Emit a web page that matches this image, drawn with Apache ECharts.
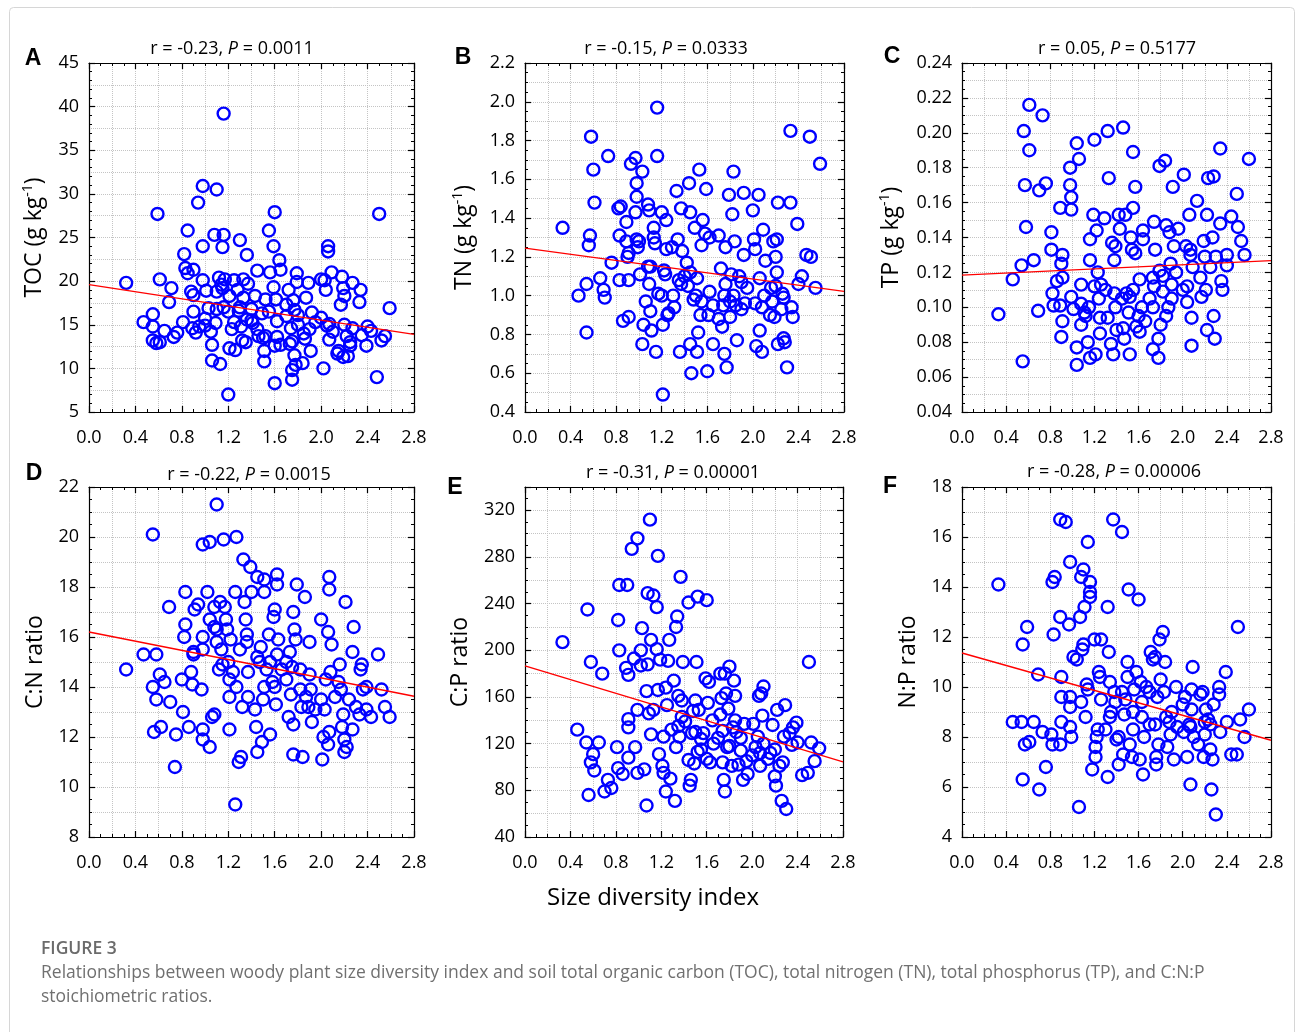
<!DOCTYPE html>
<html>
<head>
<meta charset="utf-8">
<script src="https://cdn.jsdelivr.net/npm/echarts@6/dist/echarts.min.js"></script>
<style>
html,body{margin:0;padding:0;background:#fff;}
#chart{width:1296px;height:1032px;}
</style>
</head>
<body>
<div id="chart"></div>
<script>
// ---------- DATA ----------
const xTickLabels = ['0.0','0.4','0.8','1.2','1.6','2.0','2.4','2.8'];
const panelLetters = ['A','B','C','D','E','F'];
const statTexts = [
  ['-0.23','0.0011'], ['-0.15','0.0333'], ['0.05','0.5177'],
  ['-0.22','0.0015'], ['-0.31','0.00001'], ['-0.28','0.00006']
];
const yAxisNames = ['TOC (g kg{sup|-1})','TN (g kg{sup|-1})','TP (g kg{sup|-1})','C:N ratio','C:P ratio','N:P ratio'];
// y ranges [min, max, interval, decimals]
const yRangeTOC = [5, 45, 5, 0];
const yRangeTN = [0.4, 2.2, 0.2, 1];
const yRangeTP = [0.04, 0.24, 0.02, 2];
const yRangeCN = [8, 22, 2, 0];
const yRangeCP = [40, 340, 40, 0];
const yRangeNP = [4, 18, 2, 0];
// regression line end values at x = 0 and x = 2.8
const fitTOC = [19.6, 13.9];
const fitTN = [1.245, 1.022];
const fitTP = [0.1184, 0.1267];
const fitCN = [16.2, 13.63];
const fitCP = [186.6, 104.3];
const fitNP = [11.36, 7.87];

const tocPoints = [[0.32,19.8],[0.59,27.7],[0.47,15.3],[0.55,16.2],[0.55,14.8],[0.55,13.2],[0.58,12.9],[0.61,13.0],[0.61,20.2],[0.65,14.3],[0.69,17.6],[0.71,19.2],[0.73,13.6],[0.76,14.1],[0.81,15.3],[0.82,23.1],[0.83,21.5],[0.85,25.8],[0.85,20.9],[0.90,21.3],[0.88,18.8],[0.90,18.4],[0.90,16.5],[0.89,14.6],[0.92,14.1],[0.94,29.0],[0.98,30.9],[0.98,24.0],[0.98,20.1],[1.00,14.9],[1.01,18.9],[1.03,16.9],[1.05,14.2],[1.06,12.7],[1.06,10.9],[1.08,25.3],[1.10,30.5],[1.10,18.8],[1.09,15.2],[1.12,20.4],[1.13,10.5],[1.14,19.6],[1.16,39.2],[1.16,25.3],[1.15,23.9],[1.16,17.0],[1.17,20.2],[1.21,18.3],[1.21,12.3],[1.20,7.0],[1.23,14.5],[1.25,20.1],[1.26,12.1],[1.29,16.6],[1.30,24.7],[1.31,14.8],[1.32,13.2],[1.33,18.1],[1.33,20.2],[1.36,23.0],[1.37,19.7],[1.36,15.6],[1.41,15.2],[1.43,18.3],[1.45,21.2],[1.46,13.7],[1.49,16.3],[1.51,12.0],[1.51,10.8],[1.52,13.7],[1.52,17.9],[1.55,25.8],[1.56,21.0],[1.59,24.0],[1.59,19.3],[1.60,27.9],[1.60,8.3],[1.61,17.9],[1.62,15.4],[1.62,13.6],[1.64,22.4],[1.65,21.3],[1.72,19.0],[1.74,14.6],[1.73,12.8],[1.75,9.8],[1.75,8.7],[1.76,17.8],[1.77,16.7],[1.77,11.5],[1.79,20.9],[1.79,19.9],[1.78,10.4],[1.84,10.6],[1.86,13.4],[1.87,18.1],[1.89,19.8],[1.91,12.0],[1.92,16.4],[1.95,15.3],[2.00,20.2],[2.02,10.0],[2.03,20.1],[2.04,19.0],[2.06,24.0],[2.06,23.4],[2.07,13.3],[2.07,15.1],[2.09,21.0],[2.14,11.7],[2.17,17.3],[2.18,20.5],[2.19,19.2],[2.19,11.3],[2.20,18.3],[2.22,13.7],[2.23,11.4],[2.25,12.6],[2.27,19.8],[2.27,14.6],[2.34,19.0],[2.33,17.6],[2.35,13.8],[2.39,12.6],[2.40,14.8],[2.43,14.3],[2.48,9.0],[2.50,27.7],[2.52,13.2],[2.55,13.7],[2.59,16.9],[1.40,15.5],[1.45,14.5],[1.55,16.5],[1.70,16.0],[1.80,15.0],[1.85,14.0],[1.50,13.5],[1.65,12.7],[1.90,14.5],[2.10,14.2],[2.20,15.0],[2.25,13.0],[1.30,17.0],[1.20,16.5],[1.35,13.0],[1.10,16.8],[1.00,15.7],[0.95,14.8],[1.25,15.3],[1.75,13.1],[2.00,15.8],[2.15,12.0],[2.05,14.9],[1.60,12.6],[1.40,16.8],[1.70,17.3],[1.80,16.1],[1.15,19.2],[1.28,19.0]];

const tnPoints = [[0.33,1.35],[0.47,1.00],[0.54,0.81],[0.54,1.06],[0.56,1.26],[0.57,1.31],[0.58,1.82],[0.60,1.65],[0.61,1.48],[0.66,1.09],[0.69,1.03],[0.70,0.99],[0.73,1.72],[0.76,1.17],[0.82,1.45],[0.83,1.08],[0.83,1.31],[0.84,1.46],[0.86,0.87],[0.89,1.28],[0.89,1.38],[0.91,1.22],[0.91,1.08],[0.91,0.89],[0.93,1.68],[0.97,1.71],[0.98,1.58],[0.98,1.51],[0.97,1.43],[0.98,1.29],[0.99,1.25],[1.01,1.11],[1.03,1.64],[1.04,0.85],[1.03,0.75],[1.06,0.97],[1.08,1.47],[1.09,1.44],[1.08,1.15],[1.09,1.06],[1.10,0.92],[1.11,0.82],[1.13,1.35],[1.13,1.30],[1.14,1.27],[1.16,1.97],[1.16,1.72],[1.15,0.71],[1.17,1.01],[1.20,1.43],[1.21,0.85],[1.21,0.49],[1.22,1.13],[1.23,1.11],[1.24,1.39],[1.24,1.24],[1.26,0.91],[1.29,1.25],[1.31,0.94],[1.33,1.54],[1.34,1.29],[1.36,0.71],[1.37,1.45],[1.37,1.06],[1.38,1.23],[1.42,1.17],[1.43,1.05],[1.44,1.58],[1.45,1.43],[1.45,0.75],[1.46,0.60],[1.48,0.98],[1.49,1.35],[1.51,0.71],[1.51,1.09],[1.52,0.81],[1.53,1.65],[1.54,0.90],[1.55,1.26],[1.56,1.39],[1.58,1.32],[1.59,1.55],[1.60,0.61],[1.61,0.90],[1.62,1.02],[1.62,1.30],[1.65,0.75],[1.70,1.31],[1.72,1.14],[1.73,0.84],[1.74,0.95],[1.75,0.70],[1.76,1.25],[1.76,1.06],[1.77,0.63],[1.79,1.52],[1.80,0.89],[1.81,1.11],[1.82,1.42],[1.83,1.64],[1.83,1.00],[1.84,1.28],[1.86,0.77],[1.88,1.10],[1.90,0.93],[1.92,1.53],[1.92,1.21],[1.93,0.96],[1.95,1.04],[2.00,1.44],[2.01,1.29],[2.02,1.24],[2.02,0.96],[2.03,0.74],[2.05,1.52],[2.06,1.09],[2.06,0.82],[2.08,0.94],[2.08,0.71],[2.09,1.34],[2.11,1.18],[2.16,1.04],[2.17,0.97],[2.18,1.28],[2.19,0.89],[2.20,1.20],[2.21,1.29],[2.21,1.12],[2.22,1.48],[2.22,0.75],[2.25,0.93],[2.26,1.01],[2.27,0.99],[2.27,0.78],[2.28,0.76],[2.30,0.63],[2.33,1.85],[2.33,1.48],[2.34,0.94],[2.35,0.89],[2.39,1.37],[2.40,1.06],[2.43,1.10],[2.47,1.21],[2.50,1.82],[2.51,1.20],[2.55,1.04],[2.59,1.68],[1.30,1.00],[1.40,1.10],[1.50,1.00],[1.65,0.95],[1.70,0.88],[1.75,1.00],[1.80,0.97],[1.90,1.07],[2.10,1.00],[2.15,0.90],[1.25,0.90],[1.20,1.00],[1.35,1.08],[1.55,0.97],[1.85,0.95],[2.20,1.05],[1.45,1.12],[1.10,1.15],[1.00,1.28],[0.90,1.20]];

const tpPoints = [[0.33,0.096],[0.46,0.116],[0.54,0.124],[0.55,0.069],[0.56,0.201],[0.57,0.170],[0.58,0.146],[0.61,0.216],[0.61,0.190],[0.65,0.127],[0.69,0.098],[0.70,0.167],[0.73,0.210],[0.76,0.171],[0.81,0.143],[0.81,0.133],[0.82,0.108],[0.83,0.101],[0.86,0.115],[0.89,0.157],[0.90,0.083],[0.90,0.125],[0.91,0.130],[0.91,0.117],[0.91,0.092],[0.89,0.101],[0.98,0.180],[0.98,0.170],[0.99,0.163],[0.99,0.156],[0.99,0.106],[1.01,0.099],[1.04,0.194],[1.04,0.077],[1.04,0.067],[1.06,0.185],[1.08,0.113],[1.08,0.102],[1.08,0.090],[1.11,0.097],[1.12,0.095],[1.14,0.080],[1.16,0.071],[1.16,0.127],[1.16,0.139],[1.19,0.153],[1.20,0.196],[1.21,0.073],[1.22,0.144],[1.23,0.120],[1.24,0.105],[1.25,0.094],[1.25,0.085],[1.26,0.113],[1.29,0.151],[1.32,0.201],[1.32,0.094],[1.33,0.174],[1.35,0.079],[1.36,0.137],[1.38,0.127],[1.37,0.073],[1.38,0.108],[1.39,0.100],[1.39,0.135],[1.40,0.087],[1.42,0.153],[1.43,0.145],[1.46,0.203],[1.46,0.088],[1.47,0.082],[1.48,0.153],[1.49,0.108],[1.51,0.097],[1.52,0.106],[1.52,0.073],[1.53,0.140],[1.54,0.133],[1.55,0.189],[1.55,0.157],[1.57,0.169],[1.57,0.131],[1.58,0.089],[1.61,0.116],[1.61,0.086],[1.63,0.100],[1.64,0.139],[1.64,0.144],[1.66,0.092],[1.73,0.117],[1.73,0.100],[1.73,0.076],[1.74,0.149],[1.75,0.133],[1.74,0.112],[1.78,0.071],[1.78,0.082],[1.79,0.181],[1.79,0.121],[1.80,0.090],[1.82,0.109],[1.82,0.118],[1.84,0.184],[1.85,0.147],[1.87,0.100],[1.88,0.143],[1.89,0.125],[1.90,0.113],[1.91,0.169],[1.92,0.135],[1.94,0.120],[1.96,0.145],[2.01,0.176],[2.03,0.135],[2.04,0.112],[2.04,0.103],[2.06,0.153],[2.07,0.130],[2.07,0.133],[2.08,0.094],[2.08,0.078],[2.09,0.123],[2.13,0.161],[2.16,0.117],[2.17,0.106],[2.19,0.138],[2.20,0.129],[2.21,0.110],[2.22,0.153],[2.22,0.087],[2.23,0.174],[2.25,0.123],[2.27,0.140],[2.28,0.095],[2.28,0.175],[2.29,0.082],[2.30,0.129],[2.34,0.148],[2.34,0.191],[2.35,0.115],[2.36,0.110],[2.40,0.130],[2.40,0.124],[2.44,0.152],[2.49,0.165],[2.50,0.146],[2.53,0.138],[2.56,0.130],[2.60,0.185],[1.20,0.112],[1.30,0.110],[1.45,0.105],[1.70,0.105],[1.90,0.105],[2.00,0.110],[1.60,0.095],[1.85,0.095],[1.15,0.100],[1.55,0.110]];

const cnPoints = [[0.32,14.7],[0.47,15.3],[0.55,20.1],[0.55,14.0],[0.56,12.2],[0.58,13.5],[0.58,15.3],[0.61,14.5],[0.62,12.4],[0.65,14.2],[0.69,17.2],[0.70,13.4],[0.74,10.8],[0.75,12.1],[0.80,14.3],[0.81,13.0],[0.83,17.8],[0.83,16.5],[0.82,16.0],[0.86,12.4],[0.88,14.6],[0.89,14.1],[0.90,15.3],[0.91,17.1],[0.90,15.4],[0.94,17.3],[0.97,13.9],[0.98,12.3],[0.98,11.9],[0.98,19.7],[0.98,16.0],[0.98,15.5],[1.02,17.8],[1.04,16.7],[1.04,19.8],[1.04,11.6],[1.06,12.8],[1.08,12.9],[1.08,16.4],[1.08,17.2],[1.10,21.3],[1.10,15.8],[1.12,14.7],[1.13,17.4],[1.14,15.5],[1.15,14.9],[1.16,19.9],[1.17,17.2],[1.18,16.7],[1.19,16.3],[1.21,14.3],[1.21,12.3],[1.22,15.9],[1.21,13.6],[1.24,14.6],[1.26,17.8],[1.26,9.3],[1.27,14.0],[1.27,20.0],[1.29,11.0],[1.31,11.2],[1.32,13.2],[1.33,19.1],[1.34,17.4],[1.35,16.7],[1.36,16.1],[1.36,15.8],[1.37,14.6],[1.37,13.6],[1.39,18.8],[1.40,17.8],[1.43,13.1],[1.44,12.4],[1.45,18.4],[1.45,11.4],[1.47,15.0],[1.48,15.6],[1.49,11.8],[1.50,13.5],[1.51,18.3],[1.51,17.8],[1.51,14.0],[1.53,14.7],[1.55,16.1],[1.56,15.0],[1.56,12.1],[1.58,14.2],[1.59,16.8],[1.60,17.1],[1.61,13.3],[1.62,18.1],[1.62,18.5],[1.63,15.9],[1.62,15.3],[1.66,14.7],[1.70,14.3],[1.72,12.8],[1.73,15.4],[1.74,13.7],[1.76,17.0],[1.76,11.3],[1.76,12.5],[1.77,16.3],[1.78,15.9],[1.79,18.1],[1.82,14.7],[1.82,13.9],[1.83,13.2],[1.84,11.2],[1.86,17.6],[1.87,13.6],[1.89,13.2],[1.90,15.8],[1.91,13.9],[1.92,12.6],[1.95,13.1],[2.00,16.7],[2.01,11.1],[2.02,12.0],[2.03,13.1],[2.04,14.3],[2.06,16.2],[2.07,18.4],[2.07,17.9],[2.06,11.7],[2.07,12.2],[2.08,14.6],[2.09,15.7],[2.12,13.6],[2.16,14.9],[2.17,13.9],[2.19,12.9],[2.18,12.4],[2.20,11.9],[2.20,11.4],[2.21,17.4],[2.22,11.6],[2.24,13.5],[2.27,15.4],[2.27,12.3],[2.28,16.4],[2.30,13.2],[2.33,12.9],[2.34,14.7],[2.35,14.9],[2.36,13.9],[2.39,14.0],[2.39,13.1],[2.43,12.8],[2.49,15.3],[2.52,13.9],[2.55,13.2],[2.59,12.8],[1.30,15.5],[1.45,15.2],[1.60,14.0],[1.70,15.0],[1.90,14.5],[2.00,13.5],[2.15,14.2],[1.20,15.0],[1.10,16.3],[1.75,14.8]];

const cpPoints = [[0.33,207],[0.46,132],[0.55,235],[0.54,121],[0.56,76],[0.58,190],[0.58,104],[0.60,111],[0.61,97],[0.65,121],[0.68,180],[0.70,79],[0.73,89],[0.76,82],[0.82,226],[0.83,200],[0.81,117],[0.82,99],[0.83,256],[0.86,94],[0.90,256],[0.89,185],[0.91,179],[0.91,134],[0.91,141],[0.91,108],[0.94,287],[0.96,193],[0.97,117],[0.99,95],[0.99,296],[0.99,149],[1.02,200],[1.03,219],[1.02,187],[1.05,98],[1.07,67],[1.07,165],[1.08,249],[1.08,188],[1.09,146],[1.10,312],[1.11,209],[1.11,128],[1.13,149],[1.13,247],[1.16,237],[1.16,201],[1.17,281],[1.17,166],[1.18,111],[1.19,192],[1.21,101],[1.22,126],[1.22,95],[1.24,168],[1.24,79],[1.25,153],[1.26,191],[1.27,209],[1.28,90],[1.29,132],[1.31,174],[1.32,71],[1.33,117],[1.33,220],[1.34,229],[1.35,161],[1.36,126],[1.37,263],[1.38,157],[1.38,143],[1.39,190],[1.41,139],[1.44,106],[1.44,241],[1.45,84],[1.46,89],[1.47,129],[1.48,148],[1.49,103],[1.50,157],[1.51,190],[1.52,246],[1.52,113],[1.53,149],[1.55,124],[1.57,129],[1.59,176],[1.60,107],[1.60,243],[1.61,155],[1.62,173],[1.63,104],[1.66,120],[1.72,180],[1.72,145],[1.73,159],[1.74,104],[1.74,131],[1.75,89],[1.76,79],[1.76,180],[1.77,163],[1.78,117],[1.79,150],[1.80,186],[1.82,101],[1.83,134],[1.84,174],[1.85,161],[1.86,130],[1.88,102],[1.90,114],[1.92,89],[1.93,137],[1.96,94],[2.01,137],[2.03,117],[2.05,126],[2.06,161],[2.07,101],[2.08,163],[2.07,112],[2.09,144],[2.10,169],[2.14,107],[2.16,112],[2.18,136],[2.20,92],[2.21,84],[2.22,149],[2.24,101],[2.26,71],[2.27,104],[2.28,126],[2.29,153],[2.30,64],[2.33,129],[2.35,119],[2.36,134],[2.39,138],[2.40,121],[2.44,93],[2.49,95],[2.50,190],[2.52,121],[2.55,105],[2.59,116],[1.50,130],[1.70,125],[1.80,118],[1.90,125],[2.00,110],[2.10,120],[2.20,115],[1.65,140],[1.35,135],[1.55,115],[1.85,140],[1.95,105]];

const npPoints = [[0.33,14.1],[0.46,8.6],[0.54,8.6],[0.55,11.7],[0.55,6.3],[0.57,7.7],[0.59,12.4],[0.61,7.8],[0.65,8.6],[0.69,10.5],[0.70,5.9],[0.73,8.2],[0.76,6.8],[0.81,8.1],[0.82,14.2],[0.84,14.4],[0.83,12.1],[0.82,7.7],[0.89,16.7],[0.90,10.4],[0.90,9.6],[0.90,8.6],[0.89,12.8],[0.89,7.7],[0.94,16.6],[0.97,12.5],[0.98,15.0],[0.98,9.6],[0.98,9.2],[0.99,8.0],[0.98,8.4],[1.01,11.2],[1.04,11.1],[1.06,5.2],[1.07,12.8],[1.08,9.4],[1.10,14.7],[1.10,11.7],[1.09,11.5],[1.12,8.8],[1.11,13.2],[1.08,14.4],[1.13,10.1],[1.14,9.9],[1.14,15.8],[1.16,14.2],[1.16,13.8],[1.16,13.6],[1.18,6.7],[1.20,11.9],[1.21,7.6],[1.21,7.2],[1.22,8.0],[1.23,8.3],[1.24,10.6],[1.25,10.4],[1.26,11.9],[1.26,9.5],[1.30,8.3],[1.32,6.4],[1.32,13.2],[1.33,11.4],[1.34,8.8],[1.34,10.2],[1.37,16.7],[1.38,9.8],[1.39,9.4],[1.40,7.9],[1.42,8.0],[1.42,6.9],[1.45,16.2],[1.46,7.3],[1.47,8.9],[1.48,9.5],[1.50,11.0],[1.50,10.4],[1.51,13.9],[1.52,7.7],[1.54,7.2],[1.55,8.3],[1.56,9.9],[1.58,10.6],[1.60,13.5],[1.61,7.1],[1.62,10.2],[1.63,8.8],[1.64,6.5],[1.63,9.4],[1.67,10.0],[1.70,9.8],[1.71,11.4],[1.73,11.1],[1.75,11.2],[1.75,8.5],[1.76,7.2],[1.76,6.9],[1.77,9.6],[1.78,7.7],[1.79,11.9],[1.80,10.3],[1.82,12.2],[1.83,9.8],[1.84,11.0],[1.86,7.6],[1.88,8.6],[1.89,8.1],[1.90,9.0],[1.92,7.1],[1.94,10.0],[2.01,8.2],[2.02,9.6],[2.04,7.2],[2.06,8.5],[2.07,6.1],[2.07,8.4],[2.08,9.9],[2.08,9.1],[2.09,10.8],[2.14,7.7],[2.16,9.7],[2.18,9.8],[2.19,7.2],[2.20,8.1],[2.21,9.1],[2.23,8.7],[2.25,8.5],[2.25,7.5],[2.26,5.9],[2.27,7.1],[2.28,9.3],[2.30,4.9],[2.33,9.7],[2.33,10.0],[2.34,8.2],[2.39,10.6],[2.40,8.6],[2.44,7.3],[2.49,7.3],[2.50,12.4],[2.52,8.7],[2.56,8.0],[2.60,9.1],[1.45,9.8],[1.55,9.0],[1.70,8.5],[1.85,8.8],[1.95,8.4],[2.10,8.0],[1.35,9.0],[1.65,8.0],[2.00,9.3],[2.20,8.6]];

// ---------- LAYOUT ----------
const panels = [
  {pts: tocPoints, yr: yRangeTOC, fit: fitTOC, grid:{left:89, top:63, width:325, height:349}, nameGap:42, minorY:5, showMax:true,  title:[232,48], letter:[33,59]},
  {pts: tnPoints,  yr: yRangeTN,  fit: fitTN,  grid:{left:525, top:63, width:319, height:349}, nameGap:48, minorY:4, showMax:true,  title:[666,48], letter:[463,58]},
  {pts: tpPoints,  yr: yRangeTP,  fit: fitTP,  grid:{left:962, top:63, width:309, height:349}, nameGap:58, minorY:4, showMax:true,  title:[1117,48], letter:[892,57]},
  {pts: cnPoints,  yr: yRangeCN,  fit: fitCN,  grid:{left:89, top:487, width:325, height:350}, nameGap:42, minorY:4, showMax:true,  title:[249,474], letter:[34,474]},
  {pts: cpPoints,  yr: yRangeCP,  fit: fitCP,  grid:{left:525, top:487, width:318, height:350}, nameGap:53, minorY:4, showMax:false, title:[673,472], letter:[455,488]},
  {pts: npPoints,  yr: yRangeNP,  fit: fitNP,  grid:{left:962, top:487, width:309, height:350}, nameGap:42, minorY:4, showMax:true,  title:[1114,471], letter:[890,487]}
];

const FONT = '"Open Sans", "DejaVu Sans", sans-serif';
const axisLineStyle = {color:'#000', width:1.2};
const gridLineStyle = {color:'#c4c4c4', type:'dotted', width:1};

const grids = [], xAxes = [], yAxes = [], series = [], titles = [], graphics = [];

panels.forEach((p, i) => {
  grids.push(Object.assign({containLabel:false}, p.grid));
  const [ymin, ymax, yint, dec] = p.yr;
  // x axes: main bottom, top frame, helper grid
  xAxes.push({
    gridIndex:i, type:'value', min:0, max:2.8, interval:0.4, position:'bottom',
    axisLine:{show:true, onZero:false, lineStyle:axisLineStyle},
    axisTick:{show:true, inside:true, length:6, lineStyle:{color:'#000', width:1.2}},
    minorTick:{show:true, splitNumber:4, length:3, lineStyle:{color:'#000', width:1}},
    axisLabel:{show:true, fontSize:18, color:'#000', margin:17, fontFamily:FONT,
      formatter: v => xTickLabels[Math.round(v/0.4)]},
    splitLine:{show:false}
  });
  xAxes.push({
    gridIndex:i, type:'value', min:0, max:2.8, interval:0.4, position:'top',
    axisLine:{show:true, onZero:false, lineStyle:axisLineStyle},
    axisTick:{show:true, inside:true, length:6, lineStyle:{color:'#000', width:1.2}},
    minorTick:{show:true, splitNumber:4, length:3, lineStyle:{color:'#000', width:1}},
    axisLabel:{show:false}, splitLine:{show:false}
  });
  xAxes.push({
    gridIndex:i, type:'value', min:0, max:2.8, interval:0.2, position:'bottom',
    axisLine:{show:false}, axisTick:{show:false}, axisLabel:{show:false},
    splitLine:{show:true, lineStyle:gridLineStyle}
  });
  // y axes
  yAxes.push({
    gridIndex:i, type:'value', min:ymin, max:ymax, interval:yint, position:'left',
    name: yAxisNames[i], nameLocation:'middle', nameGap:p.nameGap, nameRotate:90,
    nameTextStyle:{fontSize:23, color:'#000', fontFamily:FONT,
      rich:{sup:{fontSize:14, color:'#000', fontFamily:FONT, verticalAlign:'top', padding:[0,0,12,0]}}},
    axisLine:{show:true, onZero:false, lineStyle:axisLineStyle},
    axisTick:{show:true, inside:true, length:6, lineStyle:{color:'#000', width:1.2}},
    minorTick:{show:true, splitNumber:p.minorY, length:3, lineStyle:{color:'#000', width:1}},
    axisLabel:{show:true, fontSize:18, color:'#000', margin:10, fontFamily:FONT, showMaxLabel:p.showMax, showMinLabel:true,
      formatter: v => v.toFixed(dec)},
    splitLine:{show:false}
  });
  yAxes.push({
    gridIndex:i, type:'value', min:ymin, max:ymax, interval:yint, position:'right',
    axisLine:{show:true, onZero:false, lineStyle:axisLineStyle},
    axisTick:{show:true, inside:true, length:6, lineStyle:{color:'#000', width:1.2}},
    minorTick:{show:true, splitNumber:p.minorY, length:3, lineStyle:{color:'#000', width:1}},
    axisLabel:{show:false}, splitLine:{show:false}
  });
  yAxes.push({
    gridIndex:i, type:'value', min:ymin, max:ymax, interval:yint/2, position:'left',
    axisLine:{show:false}, axisTick:{show:false}, axisLabel:{show:false},
    splitLine:{show:true, lineStyle:gridLineStyle}
  });

  series.push({
    type:'scatter', xAxisIndex:3*i, yAxisIndex:3*i, data:p.pts,
    symbol:'circle', symbolSize:12, silent:true, z:3,
    itemStyle:{color:'rgba(0,0,0,0)', borderColor:'#0000ff', borderWidth:2.4, opacity:1}
  });
  series.push({
    type:'line', xAxisIndex:3*i, yAxisIndex:3*i, data:[[0,p.fit[0]],[2.8,p.fit[1]]],
    showSymbol:false, symbol:'none', silent:true, z:4,
    lineStyle:{color:'#ff0000', width:1.3}
  });

  titles.push({
    text: 'r = ' + statTexts[i][0] + ', {i|P} = ' + statTexts[i][1],
    left: p.title[0], top: p.title[1] - 8, textAlign:'center', padding:0,
    textStyle:{fontSize:18, fontWeight:'normal', color:'#000', fontFamily:FONT,
      rich:{i:{fontSize:18, fontStyle:'italic', color:'#000', fontFamily:FONT}}}
  });
  graphics.push({
    type:'text', x:p.letter[0], y:p.letter[1],
    style:{text:panelLetters[i], font:'bold 23px "Liberation Sans", Arial, sans-serif', fill:'#000',
      textAlign:'center', textVerticalAlign:'middle'}
  });
});

graphics.push({
  type:'rect', z:-10, shape:{x:9.5, y:7.5, width:1285, height:1040, r:4},
  style:{fill:'none', stroke:'#d6d6d6', lineWidth:1}
});
graphics.push({
  type:'text', x:653, y:898,
  style:{text:'Size diversity index', font:'24px "Open Sans", sans-serif', fill:'#000', textAlign:'center', textVerticalAlign:'middle'}
});
graphics.push({
  type:'text', x:41, y:949,
  style:{text:'FIGURE 3', font:'600 17.5px "Open Sans", sans-serif', fill:'#6b6b6b', textAlign:'left', textVerticalAlign:'middle'}
});
graphics.push({
  type:'text', x:41, y:973,
  style:{text:'Relationships between woody plant size diversity index and soil total organic carbon (TOC), total nitrogen (TN), total phosphorus (TP), and C:N:P', font:'17.5px "Open Sans", sans-serif', fill:'#707070', textAlign:'left', textVerticalAlign:'middle'}
});
graphics.push({
  type:'text', x:41, y:997,
  style:{text:'stoichiometric ratios.', font:'17.5px "Open Sans", sans-serif', fill:'#707070', textAlign:'left', textVerticalAlign:'middle'}
});

const chart = echarts.init(document.getElementById('chart'), null, {renderer:'canvas', width:1296, height:1032});
chart.setOption({
  backgroundColor:'#ffffff',
  animation:false,
  title: titles,
  grid: grids,
  xAxis: xAxes,
  yAxis: yAxes,
  series: series,
  graphic: graphics
});
</script>
</body>
</html>
